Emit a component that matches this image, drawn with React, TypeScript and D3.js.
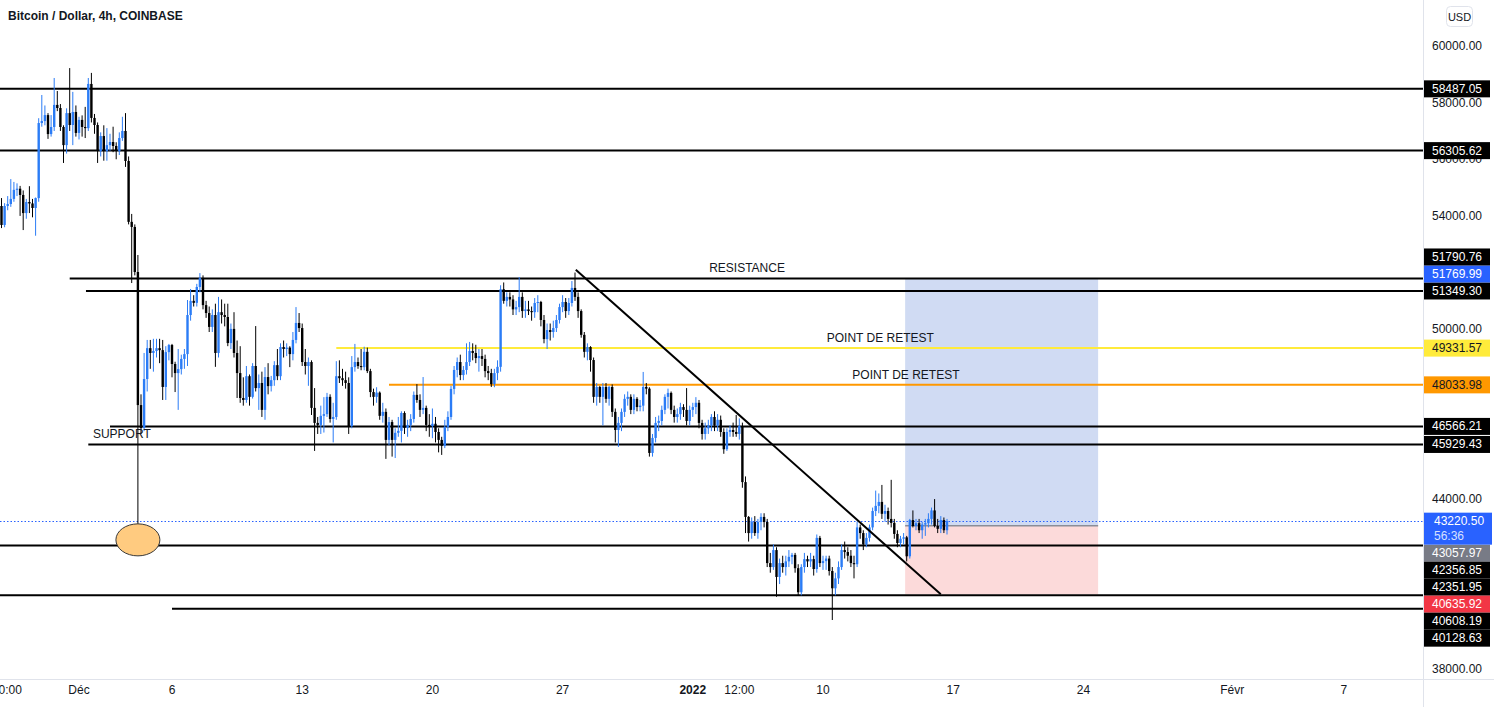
import React, { useEffect, useRef } from 'react';
import * as d3 from 'd3';

// 4h candles, Coinbase BTC/USD, starting 26 Nov 2021 20:00
const START = Date.UTC(2021, 10, 26, 20);
const STEP = 4 * 3600 * 1000;

// [open, high, low, close]
const ohlc: number[][] = [
  [54350, 54630, 53570, 53680], [53680, 54450, 53600, 54350], [54350, 54700, 54200, 54420], [54420, 55300, 54320, 54600],
  [54600, 55200, 54500, 54920], [54920, 55150, 54700, 54960], [54960, 55060, 54000, 54740], [54740, 54900, 53500, 54100],
  [54100, 54600, 53900, 54490], [54490, 55050, 54100, 54440], [54440, 54600, 53950, 54280], [54280, 54650, 53300, 54630],
  [54630, 57450, 54500, 57280], [57280, 58270, 57150, 57350], [57350, 57900, 57200, 57560], [57560, 57630, 56720, 56890],
  [56890, 57560, 56800, 57140], [57140, 58870, 57000, 57920], [57920, 58410, 57700, 57810], [57810, 57950, 57000, 57140],
  [57140, 57200, 55870, 56500], [56500, 57800, 56200, 57630], [57630, 59220, 57000, 57210], [57210, 58380, 56500, 57670],
  [57670, 57900, 56800, 56930], [56930, 57500, 56700, 57390], [57390, 57550, 56800, 57140], [57140, 57850, 56750, 57100],
  [57100, 58870, 57000, 58660], [58660, 59050, 57300, 57460], [57460, 57600, 56900, 57210], [57210, 57300, 55870, 56290],
  [56290, 56950, 56100, 56820], [56820, 57200, 55950, 56290], [56290, 57100, 55950, 56500], [56500, 56900, 56300, 56610],
  [56610, 57150, 56250, 56470], [56470, 56600, 56000, 56290], [56290, 56950, 56150, 56750], [56750, 57500, 56650, 57000],
  [57000, 57630, 55730, 55940], [55940, 56100, 53700, 53790], [53790, 54070, 51630, 53610], [53610, 53700, 51900, 52020],
  [52020, 52620, 42000, 47320], [47320, 47700, 46300, 46510], [46510, 49160, 46400, 48240], [48240, 49620, 47800, 49330],
  [49330, 49620, 48600, 49160], [49160, 49660, 48500, 49230], [49230, 49660, 49000, 49330], [49330, 49660, 48800, 49260],
  [49260, 49620, 47500, 47960], [47960, 49400, 47500, 49190], [49190, 49480, 48900, 49440], [49440, 49480, 48300, 48770],
  [48770, 48850, 47780, 48450], [48450, 49300, 47150, 48590], [48590, 49100, 48400, 48950], [48950, 49300, 48600, 49120],
  [49120, 51030, 48700, 50500], [50500, 51420, 50300, 51000], [51000, 51200, 50800, 50930], [50930, 51600, 50800, 51490],
  [51490, 51980, 51300, 51810], [51810, 51900, 50700, 50850], [50850, 51000, 50400, 50570], [50570, 50800, 49900, 50080],
  [50080, 50700, 49900, 50500], [50500, 50900, 48670, 49160], [49160, 51140, 49000, 50600], [50600, 51050, 50200, 50500],
  [50500, 50900, 50100, 50430], [50430, 50900, 49400, 49510], [49510, 50200, 49300, 50010], [50010, 50600, 49000, 49160],
  [49160, 49600, 47570, 48450], [48450, 49400, 47400, 47570], [47570, 48300, 47300, 47500], [47500, 48700, 47400, 48340],
  [48340, 48400, 47300, 47610], [47610, 48800, 47550, 48700], [48700, 50110, 47800, 47920], [47920, 48400, 47150, 48100],
  [48100, 48500, 46900, 47150], [47150, 48660, 46800, 48310], [48310, 48800, 47700, 47990], [47990, 48350, 47800, 48200],
  [48200, 48870, 48000, 48730], [48730, 49300, 48200, 48340], [48340, 49500, 48200, 49370], [49370, 49600, 49000, 49300],
  [49300, 49500, 49050, 49350], [49350, 49400, 48660, 49120], [49120, 49900, 48900, 49620], [49620, 50780, 49500, 50220],
  [50220, 50570, 49900, 50040], [50040, 50200, 48700, 48840], [48840, 49300, 48400, 48700], [48700, 49000, 48000, 48840],
  [48840, 48900, 46970, 47220], [47220, 47920, 45700, 46690], [46690, 46900, 46300, 46620], [46620, 47300, 46300, 46940],
  [46940, 47600, 46350, 47000], [47000, 47750, 46900, 47610], [47610, 47700, 46700, 46830], [46830, 47400, 46000, 46900],
  [46900, 48870, 46800, 48340], [48340, 48900, 48100, 48270], [48270, 48600, 48000, 48200], [48200, 48500, 47900, 48100],
  [48100, 48300, 46300, 46580], [46580, 49050, 46500, 48660], [48660, 49480, 48500, 48840], [48840, 49000, 48600, 48700],
  [48700, 49300, 48550, 48660], [48660, 49380, 48550, 49200], [49200, 49350, 48450, 48520], [48520, 48600, 47600, 47780],
  [47780, 47900, 47300, 47610], [47610, 47950, 47400, 47760], [47760, 47800, 46800, 46940], [46940, 47400, 46700, 47080],
  [47080, 47200, 45420, 46090], [46090, 46900, 45900, 46720], [46720, 46800, 45500, 46090], [46090, 46500, 45450, 46340],
  [46340, 46900, 46200, 46410], [46410, 47100, 46000, 47040], [47040, 47100, 46300, 46510], [46510, 46800, 46200, 46620],
  [46620, 47000, 46400, 46830], [46830, 47800, 46700, 47680], [47680, 48060, 47400, 47500], [47500, 47700, 46900, 47150],
  [47150, 48310, 47000, 47220], [47220, 47300, 46400, 46620], [46620, 47000, 46200, 46580], [46580, 47200, 46150, 46660],
  [46660, 46900, 46000, 46370], [46370, 46500, 45650, 46090], [46090, 46200, 45560, 45880], [45880, 46800, 45800, 46550],
  [46550, 47100, 46400, 46900], [46900, 48000, 46800, 47890], [47890, 48700, 47700, 48560], [48560, 49000, 48300, 48840],
  [48840, 49100, 48200, 48380], [48380, 48700, 48200, 48560], [48560, 49500, 48400, 48840], [48840, 49550, 48700, 49230],
  [49230, 49500, 48900, 49160], [49160, 49450, 48800, 48980], [48980, 49300, 48500, 49050], [49050, 49300, 48700, 48950],
  [48950, 49100, 48300, 48520], [48520, 48700, 48200, 48450], [48450, 48600, 47960, 48060], [48060, 48600, 47950, 48450],
  [48450, 48900, 48200, 48670], [48670, 51550, 48500, 51410], [51410, 51650, 50900, 51000], [51000, 51300, 50800, 51140],
  [51140, 51300, 50800, 51050], [51050, 51200, 50500, 50700], [50700, 51000, 50500, 50780], [50780, 51840, 50600, 51140],
  [51140, 51300, 50400, 50640], [50640, 51000, 50400, 50700], [50700, 51000, 50500, 50640], [50640, 50800, 50300, 50600],
  [50600, 51100, 50400, 50925], [50925, 51200, 50600, 50960], [50960, 51000, 50100, 50325], [50325, 50500, 49500, 49650],
  [49650, 50200, 49300, 49970], [49970, 50200, 49600, 49900], [49900, 50300, 49700, 50040], [50040, 50500, 49900, 50325],
  [50325, 50900, 50200, 50780], [50780, 51200, 50600, 50960], [50960, 51100, 50400, 50640], [50640, 51100, 50500, 50925],
  [50925, 51700, 50800, 51456], [51456, 52000, 51000, 51140], [51140, 51300, 50400, 50640], [50640, 50700, 49700, 49800],
  [49800, 49900, 49000, 49200], [49200, 49500, 48900, 49370], [49370, 49400, 48500, 48910], [48910, 49000, 47400, 47610],
  [47610, 48100, 47300, 47960], [47960, 48000, 47400, 47610], [47610, 48100, 46600, 47960], [47960, 48100, 47400, 47540],
  [47540, 48000, 47300, 47960], [47960, 48050, 46900, 47080], [47080, 47200, 46000, 46440], [46440, 46900, 45840, 46690],
  [46690, 47200, 46400, 47080], [47080, 47700, 46900, 47540], [47540, 47800, 47300, 47610], [47610, 47700, 47000, 47150],
  [47150, 47700, 47000, 47540], [47540, 47600, 47100, 47250], [47250, 47500, 47100, 47300], [47300, 48490, 47100, 47960],
  [47960, 48100, 47700, 47900], [47900, 47950, 45500, 45630], [45630, 46300, 45500, 46160], [46160, 46900, 46000, 46690],
  [46690, 46950, 46400, 46760], [46760, 47300, 46600, 47150], [47150, 47700, 47000, 47610], [47610, 47900, 47200, 47750],
  [47750, 47800, 47000, 47150], [47150, 47300, 46700, 46900], [46900, 47200, 46700, 47000], [47000, 47400, 46800, 47250],
  [47250, 47350, 46900, 47150], [47150, 47920, 46600, 46760], [46760, 47300, 46600, 47150], [47150, 47400, 46900, 47250],
  [47250, 47600, 47000, 47400], [47400, 47500, 46500, 46690], [46690, 46800, 46100, 46300], [46300, 46700, 46100, 46500],
  [46500, 46800, 46300, 46600], [46600, 47000, 46400, 46900], [46900, 47100, 46400, 46600], [46600, 47000, 46400, 46800],
  [46800, 46950, 46200, 46370], [46370, 46500, 45600, 45760], [45760, 46500, 45700, 46370], [46370, 46600, 46200, 46440],
  [46440, 46700, 46200, 46370], [46370, 46970, 46200, 46300], [46300, 46850, 46100, 46580], [46580, 46700, 44400, 44600],
  [44600, 44800, 42800, 43370], [43370, 43400, 42500, 42800], [42800, 43350, 42600, 43190], [43190, 43400, 42700, 42800],
  [42800, 43300, 42600, 43190], [43190, 43500, 42900, 43370], [43370, 43500, 43000, 43190], [43190, 43300, 41600, 41740],
  [41740, 42100, 41400, 41600], [41600, 42400, 41500, 42200], [42200, 42300, 40550, 41250], [41250, 41900, 41000, 41740],
  [41740, 42000, 41400, 41600], [41600, 42000, 41300, 41800], [41800, 42200, 41600, 41960], [41960, 42100, 41700, 42030],
  [42030, 42100, 41400, 41560], [41560, 41700, 40600, 40710], [40710, 41700, 40600, 41600], [41600, 42100, 41400, 41880],
  [41880, 42000, 41600, 41800], [41800, 42100, 41600, 41880], [41880, 42000, 41300, 41530], [41530, 42750, 41400, 42630],
  [42630, 42700, 41600, 41740], [41740, 42000, 41500, 41810], [41810, 42000, 41500, 41900], [41900, 42000, 41300, 41460],
  [41460, 41600, 39730, 40850], [40850, 41400, 40600, 41200], [41200, 41800, 41000, 41600], [41600, 42400, 41500, 42200],
  [42200, 42500, 41900, 42130], [42130, 42300, 41800, 42000], [42000, 42200, 41600, 41740], [41740, 42000, 41200, 41700],
  [41700, 43200, 41600, 43000], [43000, 43100, 42600, 42800], [42800, 42900, 42200, 42400], [42400, 42800, 42300, 42630],
  [42630, 43100, 42500, 43000], [43000, 43700, 42900, 43580], [43580, 44300, 43400, 43760], [43760, 44200, 43500, 43900],
  [43900, 44500, 43300, 43480], [43480, 43800, 43200, 43580], [43580, 43700, 43100, 43300], [43300, 44680, 43000, 43160],
  [43160, 43300, 42600, 42770], [42770, 42900, 42300, 42450], [42450, 42700, 42300, 42600], [42600, 42800, 42400, 42650],
  [42650, 42700, 41800, 41980], [41980, 43300, 41900, 43260], [43260, 43600, 43000, 43050], [43050, 43300, 42900, 43150],
  [43150, 43300, 42800, 42900], [42900, 43200, 42600, 43100], [43100, 43300, 42700, 43150], [43150, 43500, 43000, 43300],
  [43300, 43700, 43100, 43600], [43600, 44000, 43000, 43050], [43050, 43300, 42800, 42950], [42950, 43400, 42800, 43260],
  [43260, 43350, 42800, 42900], [42900, 43300, 42750, 43220.5],
];

// horizontal levels drawn on the chart
const levels = [
  { price: 58487.05, from: null, color: '#000000', width: 2 },
  { price: 56305.62, from: null, color: '#000000', width: 2 },
  { price: 51790.76, from: '2021-11-30T12:00Z', color: '#000000', width: 2 },
  { price: 51349.30, from: '2021-12-01T09:00Z', color: '#000000', width: 2 },
  { price: 49331.57, from: '2021-12-14T20:00Z', color: '#FFEB3B', width: 2 },
  { price: 48033.98, from: '2021-12-17T16:00Z', color: '#FF9800', width: 2 },
  { price: 46566.21, from: '2021-12-02T16:00Z', color: '#000000', width: 2 },
  { price: 45929.43, from: '2021-12-01T12:00Z', color: '#000000', width: 2 },
  { price: 42356.85, from: null, color: '#000000', width: 2 },
  { price: 40608.19, from: null, color: '#000000', width: 2 },
  { price: 40128.63, from: '2021-12-06T00:00Z', color: '#000000', width: 2 },
];

// right-axis price tags: [text, price, background, text colour]
const priceTags: [string, number, string, string][] = [
  ['58487.05', 58487.05, '#000000', '#ffffff'],
  ['56305.62', 56305.62, '#000000', '#ffffff'],
  ['51790.76', 51790.76, '#000000', '#ffffff'],
  ['51769.99', 51769.99, '#2962FF', '#ffffff'],
  ['51349.30', 51349.30, '#000000', '#ffffff'],
  ['49331.57', 49331.57, '#FFEB3B', '#131722'],
  ['48033.98', 48033.98, '#FF9800', '#131722'],
  ['46566.21', 46566.21, '#000000', '#ffffff'],
  ['45929.43', 45929.43, '#000000', '#ffffff'],
  ['43057.97', 43057.97, '#787B86', '#ffffff'],
  ['42356.85', 42356.85, '#000000', '#ffffff'],
  ['42351.95', 42351.95, '#000000', '#ffffff'],
  ['40635.92', 40635.92, '#F23645', '#ffffff'],
  ['40608.19', 40608.19, '#000000', '#ffffff'],
  ['40128.63', 40128.63, '#000000', '#ffffff'],
];

const lastPrice = 43220.5;
const countdown = '56:36';

const priceTicks = [38000, 40000, 42000, 44000, 46000, 48000, 50000, 52000, 54000, 56000, 58000, 60000];

const timeTickDates = ['2021-11-27T03:00Z', '2021-12-01T00:00Z', '2021-12-06T00:00Z', '2021-12-13T00:00Z', '2021-12-20T00:00Z',
  '2021-12-27T00:00Z', '2022-01-03T00:00Z', '2022-01-05T12:00Z', '2022-01-10T00:00Z', '2022-01-17T00:00Z',
  '2022-01-24T00:00Z', '2022-02-01T00:00Z', '2022-02-07T00:00Z'];
const timeTickLabels = ['20:00', 'Déc', '6', '13', '20', '27', '2022', '12:00', '10', '17', '24', 'Févr', '7'];

// long position tool
const position = { from: '2022-01-14T10:00Z', to: '2022-01-24T19:00Z', target: 51769.99, entry: 43057.97, stop: 40635.92 };

// trend line
const trendFrom = ['2021-12-27T17:00Z', 52100];
const trendTo = ['2022-01-16T08:00Z', 40640];

// text notes: [text, date, price, anchor]
const notes: [string, string, number, string][] = [
  ['RESISTANCE', '2022-01-05T22:00Z', 51790.76, 'middle'],
  ['POINT DE RETEST', '2022-01-13T02:00Z', 49331.57, 'middle'],
  ['POINT DE RETEST', '2022-01-14T11:00Z', 48033.98, 'middle'],
  ['SUPPORT', '2021-12-01T18:00Z', 45929.43, 'start'],
];

const ellipseAt = ['2021-12-04T04:00Z', 42560];

const W = 1494;
const H = 707;
const PLOT_R = 1423;
const PLOT_B = 679;
const PX_DAY = 18.6;
const FONT = "'Liberation Sans', Arial, sans-serif";
const UP = '#2B7CF6';
const DOWN = '#000000';

const Chart: React.FC = () => {
  const svgRef = useRef<SVGSVGElement>(null);

  useEffect(() => {
    if (!svgRef.current) return;
    const svg = d3.select(svgRef.current);
    svg.selectAll('*').remove();

    const endT = Date.UTC(2022, 1, 12);
    const x = d3.scaleUtc()
      .domain([new Date(START), new Date(endT)])
      .range([1.5, 1.5 + ((endT - START) / 86400000) * PX_DAY]);
    const y = d3.scaleLinear().domain([38000, 60000]).range([669, 46]);
    const xd = (s: string) => x(new Date(s));

    svg.append('rect').attr('width', W).attr('height', H).attr('fill', '#ffffff');

    svg.append('defs').append('clipPath').attr('id', 'plot')
      .append('rect').attr('x', 0).attr('y', 0).attr('width', PLOT_R).attr('height', PLOT_B);

    const plot = svg.append('g').attr('clip-path', 'url(#plot)');

    // position box
    const px0 = xd(position.from);
    const px1 = xd(position.to);
    plot.append('rect')
      .attr('x', px0).attr('width', px1 - px0)
      .attr('y', y(position.target)).attr('height', y(position.entry) - y(position.target))
      .attr('fill', '#D0DBF3');
    plot.append('rect')
      .attr('x', px0).attr('width', px1 - px0)
      .attr('y', y(position.entry)).attr('height', y(position.stop) - y(position.entry))
      .attr('fill', '#FCDADA');
    plot.append('line')
      .attr('x1', px0).attr('x2', px1)
      .attr('y1', y(position.entry)).attr('y2', y(position.entry))
      .attr('stroke', '#8A8D98').attr('stroke-width', 1.5);

    // last price dotted line
    const ly = Math.round(y(lastPrice)) + 0.5;
    plot.append('line')
      .attr('x1', 0).attr('x2', PLOT_R)
      .attr('y1', ly).attr('y2', ly)
      .attr('stroke', '#2962FF').attr('stroke-width', 1.2).attr('stroke-dasharray', '1.5 2');

    // horizontal levels
    plot.selectAll('.level')
      .data(levels)
      .enter()
      .append('line')
      .attr('class', 'level')
      .attr('x1', (d) => (d.from ? xd(d.from) : 0))
      .attr('x2', PLOT_R)
      .attr('y1', (d) => y(d.price))
      .attr('y2', (d) => y(d.price))
      .attr('stroke', (d) => d.color)
      .attr('stroke-width', (d) => d.width);

    // candles
    const bw = 2.4;
    const candle = plot.selectAll('.candle')
      .data(ohlc)
      .enter()
      .append('g')
      .attr('class', 'candle');

    candle.append('line')
      .attr('x1', (_d, i) => x(new Date(START + i * STEP)))
      .attr('x2', (_d, i) => x(new Date(START + i * STEP)))
      .attr('y1', (d) => y(d[1]))
      .attr('y2', (d) => y(d[2]))
      .attr('stroke', (d) => (d[3] >= d[0] ? UP : DOWN))
      .attr('stroke-width', 1);

    candle.append('rect')
      .attr('x', (_d, i) => x(new Date(START + i * STEP)) - bw / 2)
      .attr('width', bw)
      .attr('y', (d) => y(Math.max(d[0], d[3])))
      .attr('height', (d) => Math.max(1, Math.abs(y(d[0]) - y(d[3]))))
      .attr('fill', (d) => (d[3] >= d[0] ? UP : DOWN));

    // trend line
    plot.append('line')
      .attr('x1', xd(trendFrom[0] as string)).attr('y1', y(trendFrom[1] as number))
      .attr('x2', xd(trendTo[0] as string)).attr('y2', y(trendTo[1] as number))
      .attr('stroke', '#000000').attr('stroke-width', 2);

    // ellipse
    plot.append('ellipse')
      .attr('cx', xd(ellipseAt[0] as string)).attr('cy', y(ellipseAt[1] as number))
      .attr('rx', 22).attr('ry', 16)
      .attr('fill', '#FFCB80').attr('stroke', '#3a3a3a').attr('stroke-width', 1);

    // notes
    plot.selectAll('.note')
      .data(notes)
      .enter()
      .append('text')
      .attr('class', 'note')
      .attr('x', (d) => xd(d[1]))
      .attr('y', (d) => y(d[2]) - 6)
      .attr('text-anchor', (d) => d[3])
      .attr('font-family', FONT)
      .attr('font-size', 12)
      .attr('fill', '#131722')
      .text((d) => d[0]);

    // axes frame
    svg.append('line').attr('x1', PLOT_R + 0.5).attr('x2', PLOT_R + 0.5).attr('y1', 0).attr('y2', H)
      .attr('stroke', '#E0E3EB');
    svg.append('line').attr('x1', 0).attr('x2', W).attr('y1', PLOT_B + 0.5).attr('y2', PLOT_B + 0.5)
      .attr('stroke', '#E0E3EB');

    // price tags with collision handling around last price tag
    const lastY = y(lastPrice);
    const lastTop = lastY - 8.5;
    const lastBottom = lastTop + 32;
    const tagH = 17;
    const above = priceTags.filter((t) => t[1] > lastPrice).sort((a, b) => a[1] - b[1]);
    const below = priceTags.filter((t) => t[1] < lastPrice).sort((a, b) => b[1] - a[1]);
    const placed: { t: [string, number, string, string]; cy: number }[] = [];
    let edge = lastTop;
    above.forEach((t) => {
      const cy = Math.min(y(t[1]), edge - tagH / 2);
      placed.push({ t, cy });
      edge = cy - tagH / 2;
    });
    edge = lastBottom;
    below.forEach((t) => {
      const cy = Math.max(y(t[1]), edge + tagH / 2);
      placed.push({ t, cy });
      edge = cy + tagH / 2;
    });

    // merged vertical spans covered by tags
    const spans = placed.map((p) => [p.cy - tagH / 2, p.cy + tagH / 2])
      .concat([[lastTop, lastBottom]])
      .sort((a, b) => a[0] - b[0]);
    const merged: number[][] = [];
    spans.forEach((s) => {
      const last = merged[merged.length - 1];
      if (last && s[0] <= last[1] + 1) last[1] = Math.max(last[1], s[1]);
      else merged.push([s[0], s[1]]);
    });

    // price ticks (those fully covered by tags are not drawn)
    const visibleTicks = priceTicks.filter((v) => {
      const ty = y(v);
      return !merged.some((b) => ty - 5 >= b[0] && ty + 5 <= b[1]);
    });
    svg.selectAll('.ptick')
      .data(visibleTicks)
      .enter()
      .append('text')
      .attr('class', 'ptick')
      .attr('x', 1457)
      .attr('y', (d) => y(d) + 4)
      .attr('text-anchor', 'middle')
      .attr('font-family', FONT)
      .attr('font-size', 12)
      .attr('fill', '#131722')
      .text((d) => d.toFixed(2));

    // time ticks
    svg.selectAll('.ttick')
      .data(timeTickDates)
      .enter()
      .append('text')
      .attr('class', 'ttick')
      .attr('x', (d) => xd(d))
      .attr('y', 694)
      .attr('text-anchor', 'middle')
      .attr('font-family', FONT)
      .attr('font-size', 12)
      .attr('font-weight', (_d, i) => (timeTickLabels[i] === '2022' ? 'bold' : 'normal'))
      .attr('fill', '#131722')
      .text((_d, i) => timeTickLabels[i]);

    const tags = svg.selectAll('.tag')
      .data(placed)
      .enter()
      .append('g')
      .attr('class', 'tag');
    tags.append('rect')
      .attr('x', PLOT_R + 1).attr('width', 66)
      .attr('y', (d) => d.cy - tagH / 2).attr('height', tagH)
      .attr('fill', (d) => d.t[2]);
    tags.append('text')
      .attr('x', 1457)
      .attr('y', (d) => d.cy + 4)
      .attr('text-anchor', 'middle')
      .attr('font-family', FONT)
      .attr('font-size', 12)
      .attr('fill', (d) => d.t[3])
      .text((d) => d.t[0]);

    svg.append('rect')
      .attr('x', PLOT_R + 1).attr('width', 68)
      .attr('y', lastTop).attr('height', 32)
      .attr('fill', '#2962FF');
    svg.append('text')
      .attr('x', 1434).attr('y', lastY + 4)
      .attr('font-family', FONT).attr('font-size', 12)
      .attr('fill', '#ffffff')
      .text(lastPrice.toFixed(2));
    svg.append('text')
      .attr('x', 1434).attr('y', lastY + 19)
      .attr('font-family', FONT).attr('font-size', 12)
      .attr('fill', '#D6E0FF')
      .text(countdown);

    // currency badge
    svg.append('rect')
      .attr('x', 1446.5).attr('y', 6.5).attr('width', 26).attr('height', 20).attr('rx', 4)
      .attr('fill', '#ffffff').attr('stroke', '#E0E3EB');
    svg.append('text')
      .attr('x', 1459.5).attr('y', 20.5)
      .attr('text-anchor', 'middle')
      .attr('font-family', FONT).attr('font-size', 11)
      .attr('fill', '#131722')
      .text('USD');

    // title
    svg.append('text')
      .attr('x', 8).attr('y', 20)
      .attr('font-family', FONT).attr('font-size', 12).attr('font-weight', 'bold')
      .attr('fill', '#131722')
      .text('Bitcoin / Dollar, 4h, COINBASE');

    return () => {
      svg.selectAll('*').remove();
    };
  }, []);

  return (
    <svg
      ref={svgRef}
      width={W}
      height={H}
      style={{ position: 'absolute', left: 0, top: 0, display: 'block' }}
    />
  );
};

export default function App() {
  return <Chart />;
}
